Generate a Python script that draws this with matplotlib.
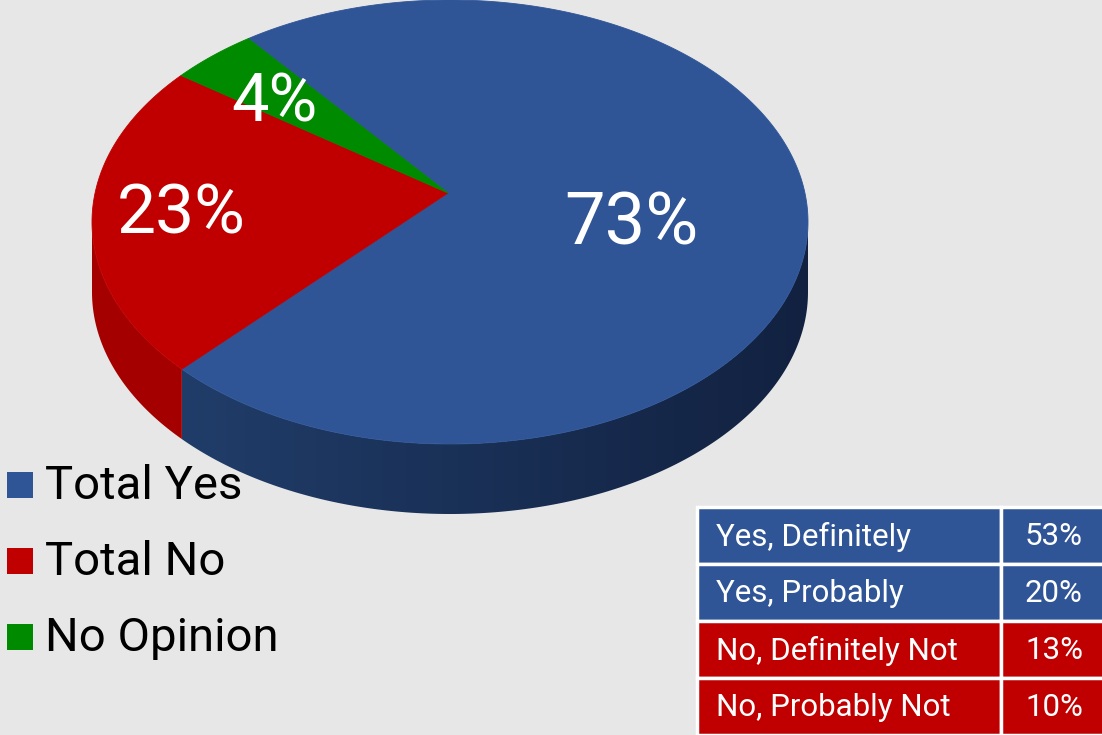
import numpy as np
import matplotlib
matplotlib.use("Agg")
import matplotlib.pyplot as plt
from matplotlib.patches import Polygon, Rectangle
from matplotlib.colors import to_rgb

plt.rcParams['font.family'] = ['Roboto', 'DejaVu Sans']

# ---- data ----
categories = ["Total Yes", "Total No", "No Opinion"]
values = [73, 23, 4]
top_colors = ["#2f5597", "#c00000", "#008a00"]
side_colors = [("#22416f", "#122140"), ("#a60000", "#9a0000"), ("#006800", "#006800")]

table_labels = ["Yes, Definitely", "Yes, Probably", "No, Definitely Not", "No, Probably Not"]
table_values = [53, 20, 13, 10]
table_colors = ["#2f5597", "#2f5597", "#c00000", "#c00000"]

# ---- figure in pixel coordinates ----
W, H = 1102, 735
fig = plt.figure(figsize=(W / 100, H / 100), dpi=100)
fig.patch.set_facecolor("#e7e7e7")
ax = fig.add_axes([0, 0, 1, 1])
ax.set_xlim(0, W)
ax.set_ylim(H, 0)
ax.axis("off")
ax.set_facecolor("#e7e7e7")

# pie geometry (tilted disc)
cx, cy = 450, 222
rx, ry = 358, 222
depth = 70
apex = (448, 193)
start = 124.3  # degrees; slices run clockwise from here


def ell(t_deg, dy=0.0):
    t = np.radians(t_deg)
    return cx + rx * np.cos(t), cy - ry * np.sin(t) + dy


total = float(sum(values))
spans = [v / total * 360.0 for v in values]
bounds = []
a = start
for s in spans:
    bounds.append((a - s, a))   # (low, high) angle of each slice
    a -= s

# side walls (front half only: angles 180..360), shaded left to right
for (a0, a1), (c0, c1) in zip(bounds, side_colors):
    for off in (0, 360, -360, 720):
        lo = max(a0 + off, 180)
        hi = min(a1 + off, 360)
        if hi <= lo:
            continue
        ts = np.linspace(lo, hi, 200)
        top = [ell(t) for t in ts]
        bot = [ell(t, depth) for t in ts[::-1]]
        poly = Polygon(top + bot, closed=True, facecolor="none",
                       edgecolor="none", zorder=2)
        ax.add_patch(poly)
        xs = [p[0] for p in top]
        x_lo, x_hi = min(xs), max(xs)
        ys = [p[1] for p in top + bot]
        ca, cb = np.array(to_rgb(c0)), np.array(to_rgb(c1))
        # gradient across the full front wall so neighbouring slices blend
        gx = np.linspace(x_lo, x_hi, 256)
        f = np.clip((gx - (cx - rx)) / (2 * rx), 0, 1)
        if c0 == c1:
            f = np.zeros_like(f)
        grad = ca[None, :] + (cb - ca)[None, :] * f[:, None]
        img = ax.imshow(grad[None, :, :], extent=(x_lo - 1, x_hi + 1,
                        max(ys) + 1, min(ys) - 1), aspect="auto",
                        interpolation="bilinear", zorder=2)
        img.set_clip_path(poly)

# top surface wedges
for (a0, a1), col in zip(bounds, top_colors):
    ts = np.linspace(a0, a1, max(8, int(a1 - a0) * 2))
    pts = [apex] + [ell(t) for t in ts]
    ax.add_patch(Polygon(pts, closed=True, facecolor=col, edgecolor=col,
                         linewidth=0.6, zorder=3))

# percentage labels placed along each slice's mid-angle
label_r = [0.51, 0.75, 0.74]
label_dy = [-11, -8, 5]
label_size = [52, 50, 48]
for (a0, a1), v, r, dy, fs in zip(bounds, values, label_r, label_dy, label_size):
    mid = (a0 + a1) / 2
    x = cx + rx * r * np.cos(np.radians(mid))
    y = cy - ry * r * np.sin(np.radians(mid)) + dy
    ax.text(x, y, f"{v}%", color="white", fontsize=fs, ha="center",
            va="center", zorder=5)

# legend
leg_y = [485, 561, 637]
for name, col, y in zip(categories, top_colors, leg_y):
    ax.add_patch(Rectangle((7, y - 13), 26, 26, facecolor=col, edgecolor="none",
                           zorder=4))
    ax.text(45, y + 1, name, fontsize=34, color="black", ha="left", va="center",
            zorder=5)

# breakdown table
tx0, tx1, tcol = 697, 1104, 1001
ty0, row_h = 507, 57
for i, (lab, val, col) in enumerate(zip(table_labels, table_values, table_colors)):
    y0 = ty0 + i * row_h
    ax.add_patch(Rectangle((tx0, y0), tcol - tx0, row_h, facecolor=col,
                           edgecolor="white", linewidth=2.5, zorder=4))
    ax.add_patch(Rectangle((tcol, y0), tx1 - tcol, row_h, facecolor=col,
                           edgecolor="white", linewidth=2.5, zorder=4))
    ax.text(716, y0 + row_h / 2 + 1, lab, color="white", fontsize=22.5,
            ha="left", va="center", zorder=5)
    ax.text(1083, y0 + row_h / 2 + 1, f"{val}%", color="white", fontsize=22.5,
            ha="right", va="center", zorder=5)

fig.savefig("out.png", dpi=100, facecolor=fig.get_facecolor())
